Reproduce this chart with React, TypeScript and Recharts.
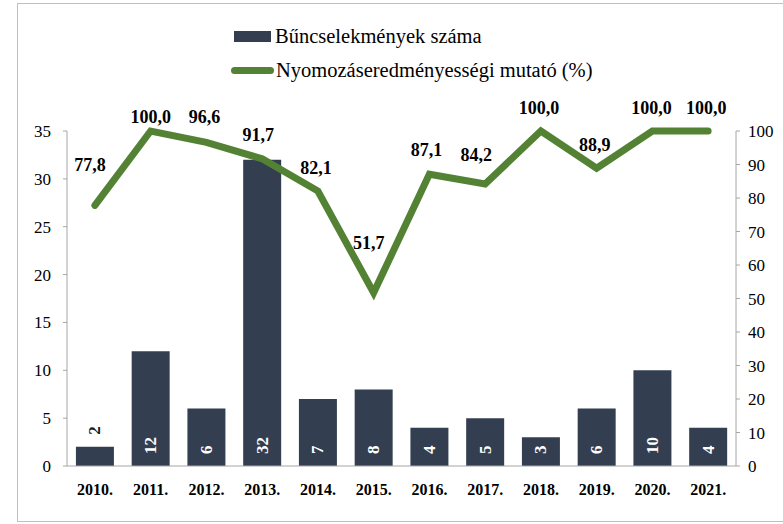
import { ComposedChart, Bar, Line, XAxis, YAxis, LabelList } from 'recharts'

const years = ['2010.', '2011.', '2012.', '2013.', '2014.', '2015.', '2016.', '2017.', '2018.', '2019.', '2020.', '2021.']
const crimes = [2, 12, 6, 32, 7, 8, 4, 5, 3, 6, 10, 4]
const efficiency = [77.8, 100, 96.6, 91.7, 82.1, 51.7, 87.1, 84.2, 100, 88.9, 100, 100]
const leftTicks = [0, 5, 10, 15, 20, 25, 30, 35]
const rightTicks = [0, 10, 20, 30, 40, 50, 60, 70, 80, 90, 100]

// label nudges for the line values (dx, dy from the point)
const lineLabelOffsets = [
  [-5, -40], [0, -14], [-2, -25], [-4, -24], [-2, -23], [-5, -50],
  [-3, -24], [-9, -29], [-2, -23], [-2, -23], [-1, -23], [-2, -23],
]

const data = years.map((year, i) => ({ year, crimes: crimes[i], efficiency: efficiency[i] }))

const FONT = 'Liberation Serif, serif'
const BAR_COLOR = '#333f50'
const LINE_COLOR = '#548235'
const AXIS_COLOR = '#a6a6a6'

const fmt = (v: number) => v.toFixed(1).replace('.', ',')

function BarValueLabel(props: any) {
  const { x, y, width, height, value } = props
  const cx = x + width / 2
  const bottom = y + height
  const small = height < 24
  const ty = small ? y - 12 : bottom - 12
  return (
    <text
      x={cx}
      y={ty}
      transform={`rotate(-90 ${cx} ${ty})`}
      textAnchor="start"
      dominantBaseline="central"
      fill={small ? '#1a1a1a' : '#ffffff'}
      style={{ fontFamily: FONT, fontWeight: 'bold', fontSize: 17 }}
    >
      {value}
    </text>
  )
}

function LineValueLabel(props: any) {
  const { x, y, value, index } = props
  const [dx, dy] = lineLabelOffsets[index] ?? [0, -23]
  return (
    <text
      x={x + dx}
      y={y + dy}
      textAnchor="middle"
      dominantBaseline="central"
      fill="#000"
      style={{ fontFamily: FONT, fontWeight: 'bold', fontSize: 18 }}
    >
      {fmt(value)}
    </text>
  )
}

export default function App() {
  return (
    <div style={{ position: 'absolute', left: 0, top: 0, width: 783, height: 524, background: '#fff', fontFamily: FONT }}>
      <div
        style={{
          position: 'absolute',
          left: 17,
          top: 3,
          width: 780,
          height: 517,
          borderLeft: '1px solid #bfbfbf',
          borderTop: '1px solid #bfbfbf',
          borderBottom: '1px solid #bfbfbf',
        }}
      />
      <div style={{ position: 'absolute', left: 234, top: 25, display: 'flex', alignItems: 'center', fontSize: 20.5, color: '#000', fontFamily: FONT }}>
        <span style={{ display: 'inline-block', width: 37, height: 11, background: BAR_COLOR, marginRight: 4 }} />
        Bűncselekmények száma
      </div>
      <div style={{ position: 'absolute', left: 231, top: 59, display: 'flex', alignItems: 'center', fontSize: 20.5, color: '#000', fontFamily: FONT }}>
        <span style={{ display: 'inline-block', width: 43, height: 7, borderRadius: 4, background: LINE_COLOR, marginRight: 2 }} />
        Nyomozáseredményességi mutató (%)
      </div>
      <div style={{ position: 'absolute', left: 0, top: 0 }}>
        <ComposedChart
          width={783}
          height={524}
          data={data}
          margin={{ top: 131, right: 7, bottom: 28, left: 27 }}
          barCategoryGap="16%"
          style={{ fontFamily: FONT }}
        >
          <XAxis
            dataKey="year"
            tickLine={false}
            axisLine={{ stroke: AXIS_COLOR }}
            tickMargin={12}
            height={30}
            tick={{ fill: '#000', fontFamily: FONT, fontWeight: 'bold', fontSize: 16 }}
          />
          <YAxis
            yAxisId="left"
            domain={[0, 35]}
            ticks={leftTicks}
            width={40}
            tickSize={4}
            tickMargin={12}
            stroke={AXIS_COLOR}
            tick={{ fill: '#000', fontFamily: FONT, fontSize: 17 }}
          />
          <YAxis
            yAxisId="right"
            orientation="right"
            domain={[0, 100]}
            ticks={rightTicks}
            width={40}
            tickSize={4}
            tickMargin={8}
            stroke={AXIS_COLOR}
            tick={{ fill: '#000', fontFamily: FONT, fontSize: 17 }}
          />
          <Bar yAxisId="left" dataKey="crimes" fill={BAR_COLOR} isAnimationActive={false}>
            <LabelList dataKey="crimes" content={BarValueLabel} />
          </Bar>
          <Line
            yAxisId="right"
            type="linear"
            dataKey="efficiency"
            stroke={LINE_COLOR}
            strokeWidth={7}
            strokeLinecap="round"
            strokeLinejoin="miter"
            dot={false}
            activeDot={false}
            isAnimationActive={false}
          >
            <LabelList dataKey="efficiency" content={LineValueLabel} />
          </Line>
        </ComposedChart>
      </div>
    </div>
  )
}
